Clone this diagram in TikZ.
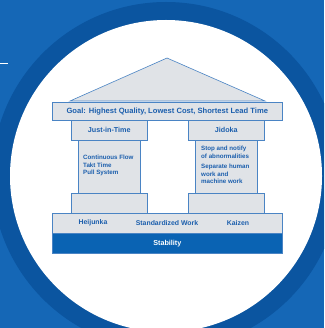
\documentclass[tikz,border=0pt]{standalone}
\usepackage{fontspec}
\setmainfont{Liberation Sans}
\definecolor{bgblue}{HTML}{1567B6}
\definecolor{ringblue}{HTML}{0B55A0}
\definecolor{txtblue}{HTML}{1C5FAD}
\definecolor{lineblue}{HTML}{4A84C4}
\definecolor{boxgray}{HTML}{E0E3E7}
\definecolor{stabblue}{HTML}{0A63B3}
\begin{document}
\begin{tikzpicture}[x=1pt,y=-1pt,
  part/.style={draw=lineblue,fill=boxgray,line width=0.6pt},
  lbl/.style={text=txtblue,font=\bfseries\fontsize{7.2}{8}\selectfont,inner sep=0pt},
  small/.style={text=txtblue,font=\bfseries\fontsize{6.2}{7.6}\selectfont,inner sep=0pt,align=left,anchor=north west}]
\useasboundingbox (0,0) rectangle (324,328);
\fill[bgblue] (0,0) rectangle (324,328);
\begin{scope}
\clip (0,0) rectangle (324,328);
\fill[ringblue] (166,176) circle (174);
\fill[white] (166,176) circle (156);
\end{scope}
\draw[white,line width=0.6pt] (0,63) -- (8,63);
% roof
\filldraw[part] (70,101) coordinate (rl) -- (167,58) coordinate (apex) -- (265,101) coordinate (rr) -- cycle;
% goal
\node[part,minimum width=230,minimum height=18,inner sep=0,anchor=north west] (goal) at (52,102) {};
\node[lbl,font=\bfseries\fontsize{7.6}{8.5}\selectfont] (goalt) at (goal.center) {Goal: Highest Quality, Lowest Cost, Shortest Lead Time};
% pillars
\node[part,minimum width=62,minimum height=54,inner sep=0,anchor=north west] (jitp) at (78,140) {};
\node[part,minimum width=62,minimum height=54,inner sep=0,anchor=north west] (jidp) at (195,140) {};
\node[part,minimum width=76,minimum height=20,inner sep=0,anchor=north west] (jit) at (71,120) {};
\node[lbl] (jitt) at (jit.center) {Just-in-Time};
\node[part,minimum width=76,minimum height=20,inner sep=0,anchor=north west] (jid) at (188,120) {};
\node[lbl] (jidt) at (jid.center) {Jidoka};
\node[part,minimum width=76,minimum height=20,inner sep=0,anchor=north west] (jitb) at (71,193) {};
\node[part,minimum width=76,minimum height=20,inner sep=0,anchor=north west] (jidb) at (188,193) {};
\node[small] (jitlist) at (83,155) {Continuous Flow\\Takt Time\\Pull System};
\node[small] (jidlist1) at (201,146) {Stop and notify\\of abnormalities};
\node[small] (jidlist2) at (201,164) {Separate human\\work and\\machine work};
% base
\node[part,minimum width=230,minimum height=20,inner sep=0,anchor=north west] (base) at (52,213) {};
\node[lbl,font=\bfseries\fontsize{6.9}{8}\selectfont] (hei) at (93,223) {Heijunka};
\node[lbl,font=\bfseries\fontsize{6.9}{8}\selectfont] (std) at (167,223) {Standardized Work};
\node[lbl,font=\bfseries\fontsize{6.9}{8}\selectfont] (kai) at (238,223) {Kaizen};
\node[draw=lineblue,fill=stabblue,line width=0.6pt,minimum width=230,minimum height=20,inner sep=0,anchor=north west] (stab) at (52,233) {};
\node[lbl,text=white,font=\bfseries\fontsize{7.2}{8}\selectfont] (stabt) at (stab.center) {Stability};
\end{tikzpicture}
\end{document}
